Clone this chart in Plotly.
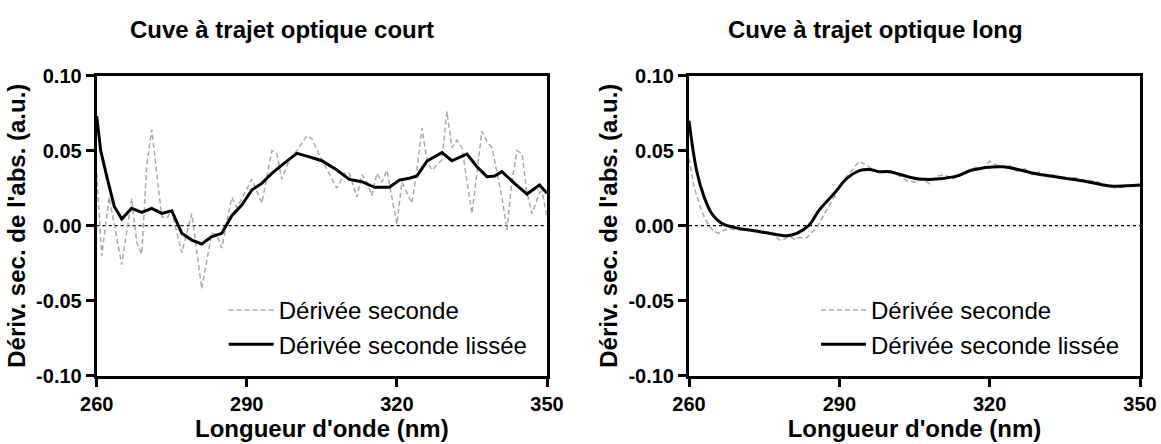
import plotly.graph_objects as go

W, H = 1161, 444

# ---------------- data ----------------
titles = ["Cuve à trajet optique court", "Cuve à trajet optique long"]
series_names = ["Dérivée seconde", "Dérivée seconde lissée"]
x_title = "Longueur d'onde (nm)"
y_title = "Dériv. sec. de l'abs. (a.u.)"
x_ticks = [260, 290, 320, 350]
y_ticks = [-0.10, -0.05, 0.00, 0.05, 0.10]
y_ticktext = ["-0.10", "-0.05", "0.00", "0.05", "0.10"]

short_raw_x = [260, 261, 262.5, 265, 267, 268, 269, 270, 271, 273, 274, 275, 277, 279,
               281, 283, 284, 285, 287, 288, 289, 291, 293, 295, 296, 297, 298.5, 300,
               302, 303, 304.5, 306, 308, 309.5, 310.5, 312, 313, 314, 315, 316, 317,
               318, 319, 320, 321, 323, 324, 325, 326, 327, 329, 330, 331, 332, 333,
               335, 337, 338, 339, 341, 342, 343, 344, 345, 346, 347, 348.5, 349, 350]
short_raw_y = [0.035, -0.020, 0.019, -0.026, 0.018, -0.011, -0.019, 0.040, 0.064, 0.006,
               0.005, 0.010, -0.018, 0.008, -0.042, -0.005, -0.006, -0.015, 0.019, 0.012,
               0.018, 0.031, 0.015, 0.050, 0.048, 0.031, 0.044, 0.050, 0.060, 0.058,
               0.047, 0.038, 0.025, 0.035, 0.035, 0.019, 0.034, 0.029, 0.020, 0.035,
               0.029, 0.037, 0.019, 0.001, 0.029, 0.015, 0.037, 0.065, 0.044, 0.037,
               0.044, 0.076, 0.052, 0.057, 0.052, 0.008, 0.063, 0.056, 0.052, 0.019,
               -0.003, 0.030, 0.050, 0.048, 0.022, 0.008, 0.022, 0.023, 0.006]

short_smooth_x = [260, 260.8, 262, 263.5, 265, 267, 269, 271, 273, 275, 277, 279, 281, 283,
                  285, 287, 289, 291, 293, 295, 297, 300, 302, 305, 308, 310.5, 313, 315.5,
                  318.5, 320.5, 322.5, 324, 326, 329, 331, 334, 336, 338, 339.5, 341, 343.5,
                  346, 348.5, 350]
short_smooth_y = [0.073, 0.050, 0.033, 0.013, 0.0044, 0.0116, 0.0089, 0.0116, 0.0082, 0.010,
                  -0.005, -0.0096, -0.0122, -0.0073, -0.0051, 0.0067, 0.0138, 0.0238, 0.0282,
                  0.0349, 0.0404, 0.0482, 0.0464, 0.0433, 0.0371, 0.0309, 0.0293, 0.0256,
                  0.0256, 0.0304, 0.0316, 0.0331, 0.0431, 0.0487, 0.0433, 0.0478, 0.0393,
                  0.0327, 0.0331, 0.036, 0.0282, 0.0211, 0.0271, 0.0216]

long_raw_x = [260, 261, 262, 263, 264, 265, 266, 267, 268, 270, 272, 274, 276, 277, 278, 279,
              280, 281, 282, 283.5, 285.5, 287, 289, 291, 293, 294, 295, 296.5, 298, 300,
              302, 303.5, 305, 306.5, 308, 309.5, 311, 312.5, 314, 315.5, 317, 318.5, 320,
              321, 322.5, 324, 325.5, 327, 328.5, 330, 331.5, 333, 335, 337, 339, 341,
              342.5, 344, 345.5, 347, 348.5, 350]
long_raw_y = [0.045, 0.026, 0.015, 0.006, 0.000, -0.004, -0.005, -0.003, -0.002, -0.003,
              -0.003, -0.004, -0.005, -0.006, -0.0095, -0.009, -0.007, -0.009, -0.008,
              -0.008, -0.001, 0.008, 0.020, 0.031, 0.039, 0.043, 0.041, 0.038, 0.036, 0.037,
              0.033, 0.030, 0.029, 0.031, 0.028, 0.033, 0.034, 0.031, 0.033, 0.036, 0.039,
              0.038, 0.043, 0.041, 0.039, 0.040, 0.036, 0.038, 0.034, 0.036, 0.033, 0.034,
              0.031, 0.032, 0.030, 0.030, 0.028, 0.026, 0.025, 0.026, 0.027, 0.026]

long_smooth_x = [260, 261.5, 263, 264.5, 266.5, 269, 272, 275.5, 279.5, 281.5, 284, 286, 289,
                 291.5, 294, 296, 298, 300, 306, 313, 316.5, 322.5, 329.5, 338.5, 344, 350]
long_smooth_y = [0.070, 0.037, 0.0193, 0.0083, 0.0016, -0.0011, -0.0029, -0.0047, -0.0067,
                 -0.0051, 0.0005, 0.0105, 0.0216, 0.0316, 0.0367, 0.0375, 0.036, 0.036,
                 0.0311, 0.0327, 0.0371, 0.0393, 0.0345, 0.030, 0.0265, 0.0271]

# ---------------- layout helpers ----------------
FONT = "Arial, Liberation Sans, sans-serif"

def px_x(p):
    return p / W

def px_y(p):
    return 1 - p / H

plot_left = [96.7, 689.0]
plot_right = [547.0, 1140.0]
plot_top, plot_bottom = 75.7, 375.7

fig = go.Figure()

panels = [
    (short_raw_x, short_raw_y, short_smooth_x, short_smooth_y, "linear"),
    (long_raw_x, long_raw_y, long_smooth_x, long_smooth_y, "spline"),
]

for i, (rx, ry, sx, sy, shape) in enumerate(panels):
    xa = "x" if i == 0 else "x2"
    ya = "y" if i == 0 else "y2"
    lg = "legend" if i == 0 else "legend2"
    fig.add_trace(go.Scatter(x=rx, y=ry, mode="lines", name=series_names[0],
                             line=dict(color="#a8a8a8", width=1.5, dash="5px,3px"),
                             xaxis=xa, yaxis=ya, legend=lg))
    fig.add_trace(go.Scatter(x=sx, y=sy, mode="lines", name=series_names[1],
                             line=dict(color="black", width=3, shape=shape),
                             xaxis=xa, yaxis=ya, legend=lg))
    # zero reference line
    fig.add_shape(type="line", xref=f"{xa} domain", yref=ya, x0=0, x1=1, y0=0, y1=0,
                  line=dict(color="black", width=1.2, dash="dot"), layer="below")

axis_common = dict(showline=True, linewidth=3, linecolor="black", mirror=True,
                   ticks="outside", ticklen=8, tickwidth=3, tickcolor="black",
                   showgrid=False, zeroline=False, automargin=False,
                   tickfont=dict(family=FONT, size=20, color="black", weight="bold"),
                   title_font=dict(family=FONT, size=24, color="black", weight="bold"))

layout = dict(
    width=W, height=H, margin=dict(l=0, r=0, t=0, b=0, autoexpand=False),
    paper_bgcolor="white", plot_bgcolor="white",
    showlegend=True,
)

for i in range(2):
    sfx = "" if i == 0 else "2"
    layout["xaxis" + sfx] = dict(axis_common,
                                 domain=[px_x(plot_left[i]), px_x(plot_right[i])],
                                 range=[260, 350], tickvals=x_ticks,
                                 anchor="y" + sfx,
                                 title=dict(text=x_title, standoff=0))
    layout["yaxis" + sfx] = dict(axis_common,
                                 domain=[px_y(plot_bottom), px_y(plot_top)],
                                 range=[-0.10, 0.10], tickvals=y_ticks, ticktext=y_ticktext,
                                 anchor="x" + sfx,
                                 title=dict(text=y_title, standoff=4))
    leg = dict(x=px_x(plot_left[i] + 127), y=px_y(288), xanchor="left", yanchor="top",
               bgcolor="rgba(0,0,0,0)", borderwidth=0, itemwidth=45,
               font=dict(family=FONT, size=24, color="black"),
               tracegroupgap=0)
    layout["legend" + sfx] = leg

fig.update_layout(**layout)

title_cx = [282, 875]
for i in range(2):
    fig.add_annotation(text=titles[i], xref="paper", yref="paper",
                       x=px_x(title_cx[i]), y=px_y(29), xanchor="center", yanchor="middle",
                       showarrow=False,
                       font=dict(family=FONT, size=24, color="black", weight="bold"))

fig.write_html(
    "out.html",
    config={"displayModeBar": False},
    post_script="document.body.style.margin='0';document.body.style.overflow='hidden';",
)
